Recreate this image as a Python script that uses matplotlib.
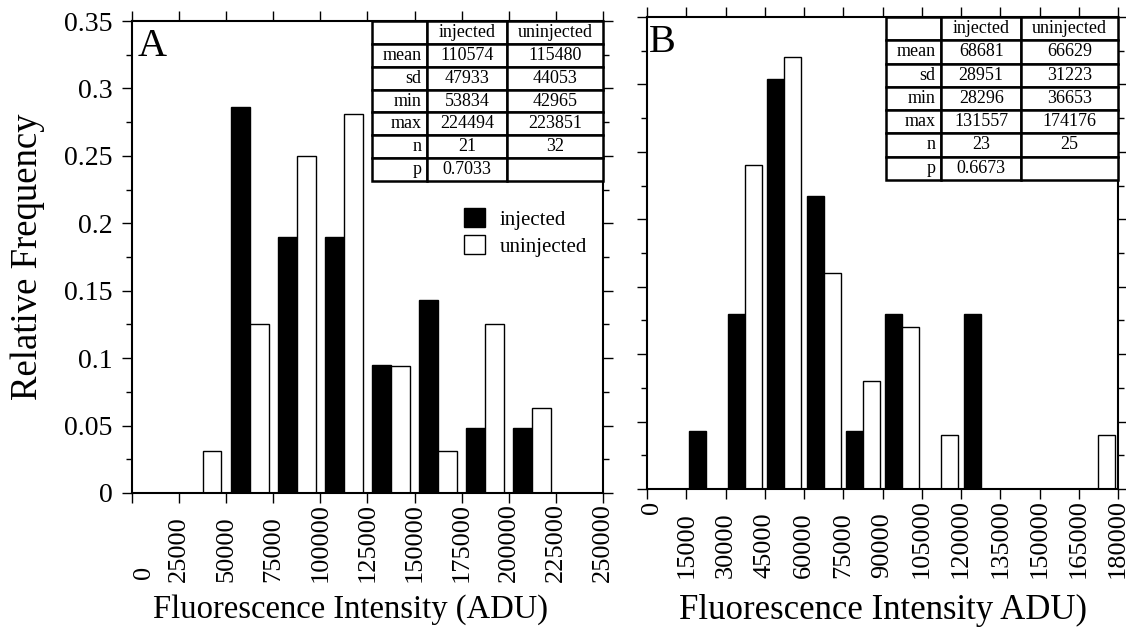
import matplotlib
matplotlib.use("Agg")
import matplotlib.pyplot as plt
from matplotlib.ticker import MultipleLocator
from matplotlib.transforms import ScaledTranslation

plt.rcParams['font.family'] = ['Liberation Serif', 'DejaVu Serif']

# panel A, bins of 25000 ADU
bins_a = [0, 25000, 50000, 75000, 100000, 125000, 150000, 175000, 200000, 225000]
inj_a = [0, 0, 0.286, 0.190, 0.190, 0.095, 0.143, 0.048, 0.048, 0]
uninj_a = [0, 0.031, 0.125, 0.250, 0.281, 0.094, 0.031, 0.125, 0.063, 0]
ticks_a = [0, 25000, 50000, 75000, 100000, 125000, 150000, 175000, 200000, 225000, 250000]

# panel B, bins of 15000 ADU
bins_b = [0, 15000, 30000, 45000, 60000, 75000, 90000, 105000, 120000, 135000, 150000, 165000]
inj_b = [0, 0.043, 0.130, 0.304, 0.217, 0.043, 0.130, 0, 0.130, 0, 0, 0]
uninj_b = [0, 0, 0.240, 0.320, 0.160, 0.080, 0.120, 0.040, 0, 0, 0, 0.040]
ticks_b = [0, 15000, 30000, 45000, 60000, 75000, 90000, 105000, 120000, 135000, 150000, 165000, 180000]

yticks = [0, 0.05, 0.1, 0.15, 0.2, 0.25, 0.3, 0.35]
ytick_labels = ['0', '0.05', '0.1', '0.15', '0.2', '0.25', '0.3', '0.35']

stat_names = ['mean', 'sd', 'min', 'max', 'n', 'p']
col_names = ['', 'injected', 'uninjected']
stats_a_inj = ['110574', '47933', '53834', '224494', '21', '0.7033']
stats_a_uninj = ['115480', '44053', '42965', '223851', '32', '']
stats_b_inj = ['68681', '28951', '28296', '131557', '23', '0.6673']
stats_b_uninj = ['66629', '31223', '36653', '174176', '25', '']


def draw_panel(ax, bins, width, inj, uninj, ticks, off, bw):
    left_inj = [b + off * width for b in bins]
    left_un = [b + (off + bw) * width for b in bins]
    ax.bar(left_inj, inj, width=bw * width, align='edge', color='black',
           edgecolor='black', linewidth=1, label='injected')
    ax.bar(left_un, uninj, width=bw * width, align='edge', color='white',
           edgecolor='black', linewidth=1, label='uninjected')
    ax.set_xlim(ticks[0], ticks[-1])
    ax.set_ylim(0, 0.35)
    ax.set_xticks(ticks)
    ax.set_xticklabels([str(t) for t in ticks], rotation=90, va='bottom',
                       fontsize=19)
    ax.set_yticks(yticks)
    ax.yaxis.set_minor_locator(MultipleLocator(0.025))
    ax.tick_params(axis='x', which='major', direction='out', length=7,
                   width=1, top=True, pad=57)
    ax.tick_params(axis='y', which='major', direction='out', length=7,
                   width=1, right=True, pad=7)
    ax.tick_params(axis='y', which='minor', direction='out', length=4,
                   width=1, right=True)
    for s in ax.spines.values():
        s.set_linewidth(1.5)


def draw_table(ax, inj, uninj, bbox):
    cells = [col_names] + [[n, a, b] for n, a, b in zip(stat_names, inj, uninj)]
    tb = ax.table(cellText=cells, bbox=bbox, colWidths=[0.238, 0.346, 0.416],
                  cellLoc='center', zorder=5)
    tb.auto_set_font_size(False)
    tb.set_fontsize(13)
    for (r, c), cell in tb.get_celld().items():
        cell.set_linewidth(1.8)
        cell.set_facecolor('white')
        if c == 0:
            cell.set_text_props(ha='right')


fig = plt.figure(figsize=(11.26, 6.33), dpi=100)
ax_a = fig.add_axes([0.1172, 0.2212, 0.4183, 0.7456])
ax_b = fig.add_axes([0.5746, 0.2275, 0.4183, 0.7456])

draw_panel(ax_a, bins_a, 25000, inj_a, uninj_a, ticks_a, 0.1, 0.4)
draw_panel(ax_b, bins_b, 15000, inj_b, uninj_b, ticks_b, 0.07, 0.43)

ax_a.set_yticklabels(ytick_labels, fontsize=20)
ax_b.set_yticklabels([])

ax_a.set_ylabel('Relative Frequency', fontsize=26.5)
ax_a.yaxis.set_label_coords(-0.185, 0.5)
ax_a.set_xlabel('Fluorescence Intensity (ADU)', fontsize=23.5)
ax_a.xaxis.set_label_coords(0.463, -0.214)
ax_b.set_xlabel('Fluorescence Intensity ADU)', fontsize=25)
ax_b.xaxis.set_label_coords(0.5, -0.222)

ax_a.text(0.012, 0.985, 'A', transform=ax_a.transAxes, fontsize=29, va='top')
ax_b.text(0.005, 0.985, 'B', transform=ax_b.transAxes, fontsize=29, va='top')

draw_table(ax_a, stats_a_inj, stats_a_uninj, [0.51, 0.661, 0.49, 0.339])
draw_table(ax_b, stats_b_inj, stats_b_uninj, [0.507, 0.655, 0.493, 0.345])

ax_a.legend(loc='upper left', bbox_to_anchor=(0.683, 0.625), frameon=False,
            fontsize=15, handlelength=1.0, handleheight=1.0,
            handletextpad=0.7, borderpad=0, labelspacing=0.25)

# the "0" tick labels sit apart from the others in the original scan
lab = ax_a.xaxis.get_major_ticks()[0].label1
lab.set_transform(lab.get_transform() + ScaledTranslation(0.12, 0.03, fig.dpi_scale_trans))
lab = ax_b.xaxis.get_major_ticks()[0].label1
lab.set_verticalalignment('top')
lab.set_transform(lab.get_transform() + ScaledTranslation(0.05, 0.77, fig.dpi_scale_trans))

fig.savefig('out.png', dpi=100)
